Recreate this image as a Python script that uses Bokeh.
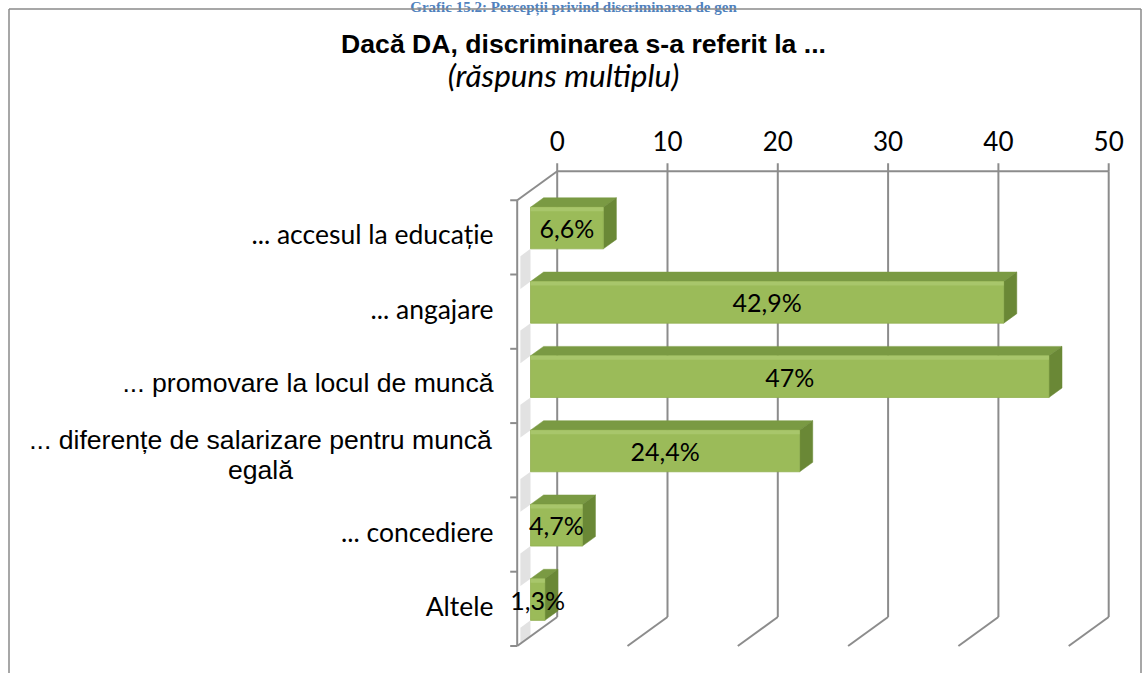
from bokeh.plotting import figure
from bokeh.models import Range1d
from bokeh.core.properties import value
from bokeh.embed import file_html
from bokeh.resources import INLINE

# ---------------- data ----------------
categories = [
    "... accesul la educație",
    "... angajare",
    "... promovare la locul de muncă",
    "... diferențe de salarizare pentru muncă\negală",
    "... concediere",
    "Altele",
]
values = [6.6, 42.9, 47.0, 24.4, 4.7, 1.3]
value_labels = ["6,6%", "42,9%", "47%", "24,4%", "4,7%", "1,3%"]
ticks = [0, 10, 20, 30, 40, 50]
page_title = "Grafic 15.2: Percepții privind discriminarea de gen"
chart_title = "Dacă DA, discriminarea s-a referit la ..."
chart_subtitle = "răspuns multiplu"

# ---------------- geometry (pixels -> data units) ----------------
W, H = 1148, 673
SX = 11.03          # px per value unit
SY = 74.3           # px per category band
X0 = 556.7          # px of value 0 on the back wall
Y0 = 170.7          # px of the top of the back wall
N = len(categories)

DX = -40.0 / SX     # depth offset of the front plane (value units)
DY = 29.0 / SY      # depth offset of the front plane (category units)
F_FR = 0.667        # bar front face depth fraction
B_FR = 0.34         # bar back face depth fraction
BAR_T, BAR_B = 0.225, 0.785

GRID = "#8C8C8C"
FRONT = "#9BBB59"
HILITE = "#A8C66B"
TOP = "#7A9A43"
SIDE = "#6A8836"


def px_x(px):
    return (px - X0) / SX


def px_y(py):
    return (py - Y0) / SY


p = figure(width=W, height=H, output_backend="svg", toolbar_location=None,
           x_range=Range1d(px_x(0), px_x(W)),
           y_range=Range1d(px_y(H), px_y(0)),
           min_border=0)
p.axis.visible = False
p.xgrid.visible = False
p.ygrid.visible = False
p.outline_line_color = None
p.background_fill_color = "white"
p.border_fill_color = "white"

# document caption above the chart frame
p.text(x=[px_x(573)], y=[px_y(6)], text=[page_title],
       text_font=value("Liberation Serif"), text_font_size="15px", text_font_style="bold",
       text_align="center", text_baseline="alphabetic", text_color="#4F81BD")

# chart frame (left, top, right)
L, R, T, B = px_x(8.5), px_x(1140.5), px_y(8.5), px_y(H + 5)
p.segment(x0=[L, L, R], y0=[T, T, T], x1=[L, R, R], y1=[B, T, B],
          line_color="#8A8A8A", line_width=1.5)

# ---------------- left wall shading ----------------
sh_xs, sh_ys = [], []
for i in range(N):
    a = i + BAR_B
    b = i + 1 + BAR_T if i < N - 1 else N
    sh_xs.append([F_FR * DX, DX * 0.92, DX * 0.92, F_FR * DX])
    sh_ys.append([a + F_FR * DY, a + 0.92 * DY, b + 0.92 * DY, b + F_FR * DY])
p.patches(sh_xs, sh_ys, fill_color="#BFBFBF", fill_alpha=0.45, line_color=None)

# ---------------- walls / gridlines ----------------
p.segment(x0=ticks, y0=[0] * len(ticks), x1=ticks, y1=[N] * len(ticks),
          line_color=GRID, line_width=2)
p.segment(x0=ticks, y0=[0] * len(ticks), x1=ticks, y1=[-8 / SY] * len(ticks),
          line_color=GRID, line_width=2)
p.segment(x0=ticks, y0=[N] * len(ticks),
          x1=[t + DX for t in ticks], y1=[N + DY] * len(ticks),
          line_color=GRID, line_width=2)
p.segment(x0=[ticks[0]], y0=[0], x1=[ticks[-1]], y1=[0], line_color=GRID, line_width=2)
p.segment(x0=[0], y0=[0], x1=[DX], y1=[DY], line_color=GRID, line_width=2)
p.segment(x0=[DX], y0=[DY], x1=[DX], y1=[N + DY], line_color=GRID, line_width=2)
p.segment(x0=[DX] * (N + 1), y0=[k + DY for k in range(N + 1)],
          x1=[DX - 7 / SX] * (N + 1), y1=[k + DY for k in range(N + 1)],
          line_color=GRID, line_width=2)

# ---------------- 3D bars ----------------
fxo, fyo = F_FR * DX, F_FR * DY
bxo, byo = B_FR * DX, B_FR * DY
front_xs, front_ys, top_xs, top_ys, side_xs, side_ys, hi_xs, hi_ys = [], [], [], [], [], [], [], []
for i, v in enumerate(values):
    t, b = i + BAR_T, i + BAR_B
    front_xs.append([fxo, v + fxo, v + fxo, fxo])
    front_ys.append([t + fyo, t + fyo, b + fyo, b + fyo])
    hi_xs.append([fxo, v + fxo, v + fxo, fxo])
    hi_ys.append([t + fyo, t + fyo, t + fyo + 4 / SY, t + fyo + 4 / SY])
    top_xs.append([fxo, v + fxo, v + bxo, bxo])
    top_ys.append([t + fyo, t + fyo, t + byo, t + byo])
    side_xs.append([v + fxo, v + fxo, v + bxo, v + bxo])
    side_ys.append([t + fyo, b + fyo, b + byo, t + byo])

p.patches(top_xs, top_ys, fill_color=TOP, line_color=TOP, line_width=0.5)
p.patches(side_xs, side_ys, fill_color=SIDE, line_color=SIDE, line_width=0.5)
p.patches(front_xs, front_ys, fill_color=FRONT, line_color="#8FAF4E", line_width=0.8)
p.patches(hi_xs, hi_ys, fill_color=HILITE, line_color=None)

# value labels
p.text(x=[v / 2 + fxo for v in values], y=[i + (BAR_T + BAR_B) / 2 + fyo for i in range(N)],
       text=value_labels, text_font=value("Lato"), text_font_size="25px",
       text_align="center", text_baseline="middle", text_color="black")

# ---------------- axis labels ----------------
p.text(x=ticks, y=[px_y(140)] * len(ticks), text=[str(t) for t in ticks],
       text_font=value("Lato"), text_font_size="26px",
       text_align="center", text_baseline="middle", text_color="black")

label_x = px_x(493)
arial_idx = [2]
calibri_idx = [0, 1, 4, 5]
p.text(x=[label_x] * len(calibri_idx), y=[i + 0.5 + DY - 3 / SY for i in calibri_idx],
       text=[categories[i] for i in calibri_idx],
       text_font=value("Lato"), text_font_size="26.5px",
       text_align="right", text_baseline="middle", text_color="black")
p.text(x=[label_x] * len(arial_idx), y=[i + 0.5 + DY - 3 / SY for i in arial_idx],
       text=[categories[i] for i in arial_idx],
       text_font=value("Liberation Sans"), text_font_size="26.6px",
       text_align="right", text_baseline="middle", text_color="black")
p.text(x=[px_x(260)], y=[3 + 0.5 + DY - 5 / SY], text=[categories[3]],
       text_font=value("Liberation Sans"), text_font_size="26.6px",
       text_align="center", text_baseline="middle", text_color="black",
       text_line_height=1.0)

# ---------------- titles ----------------
p.text(x=[px_x(583)], y=[px_y(43)], text=[chart_title],
       text_font=value("Liberation Sans"), text_font_size="26.6px", text_font_style="bold",
       text_align="center", text_baseline="middle", text_color="black")
p.text(x=[px_x(563)], y=[px_y(74)], text=["(" + chart_subtitle + ")"],
       text_font=value("Lato"), text_font_size="31.5px", text_font_style="italic",
       text_align="center", text_baseline="middle", text_color="black")

open("out.html", "w").write(file_html(p, INLINE))
